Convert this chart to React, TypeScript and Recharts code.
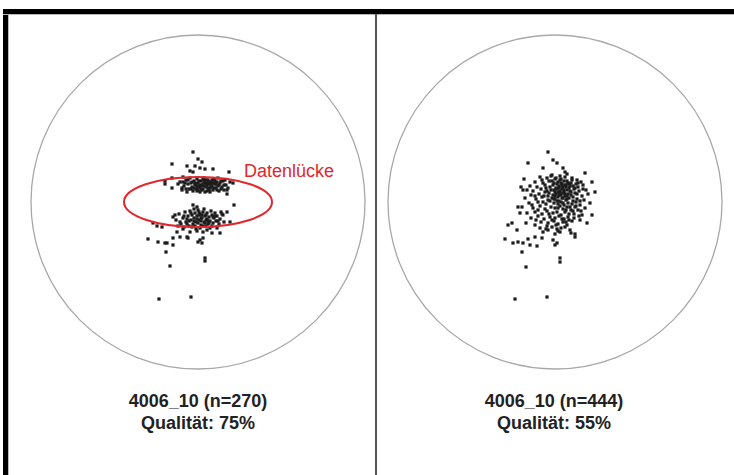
import React from 'react';
import { ScatterChart, Scatter, XAxis, YAxis, ReferenceDot } from 'recharts';

// Projection net radius (units); offsets from the net centre, y up.
const NET_RADIUS = 167;

const LEFT_TITLE = '4006_10 (n=270)';
const LEFT_QUALITY = 'Qualität: 75%';
const RIGHT_TITLE = '4006_10 (n=444)';
const RIGHT_QUALITY = 'Qualität: 55%';
const GAP_LABEL = 'Datenlücke';

// Data gap ellipse (units)
const GAP_ELLIPSE = { x: 0, y: 0, rx: 74, ry: 25 };

const LEFT_UPPER: [number, number][] = [
  [-5, 50], [0, 43], [4, 40], [-26, 38], [-11, 36], [-3, 36], [2, 34], [7, 33], [15, 33], [31, 30],
  [-8, 31], [-5, 30], [-15, 25], [-26, 24], [-33, 21], [20, 24], [35, 19], [29, 8], [-33, 18], [-26, 14],
  [-16, 12], [-18, 20], [-14, 16], [-12, 22], [-10, 18], [-9, 13], [-8, 24], [-7, 19], [-6, 15], [-5, 11],
  [-4, 21], [-3, 17], [-2, 13], [-1, 23], [0, 19], [1, 15], [2, 10], [3, 21], [4, 17], [5, 13],
  [6, 24], [7, 19], [8, 15], [9, 11], [10, 22], [11, 18], [12, 14], [13, 20], [14, 16], [15, 12],
  [16, 23], [17, 18], [18, 14], [19, 20], [20, 16], [21, 11], [22, 19], [24, 15], [25, 21], [26, 12],
  [28, 17], [30, 14], [32, 20], [-16, 14], [-11, 10], [-6, 20], [-2, 18], [1, 21], [4, 12], [6, 16],
  [8, 22], [10, 14], [12, 18], [14, 22], [16, 14], [18, 18], [-4, 14], [0, 12], [3, 16], [7, 10],
  [11, 12], [23, 13], [27, 22], [-20, 18], [-13, 19], [5, 18], [9, 17], [13, 15], [-1, 16], [2, 17],
  [15, 19], [-15, 20], [-10, 22], [-7, 13], [-3, 19], [0, 15], [3, 13], [6, 21], [9, 19], [12, 10],
  [14, 19], [17, 21], [19, 12], [21, 17], [23, 21], [26, 17], [29, 12], [-12, 13], [-1, 11], [5, 23],
  [11, 20],
];

const LEFT_LOWER: [number, number][] = [
  [36, -3], [29, -10], [25, -13], [-5, -3], [-1, -5], [-45, -21], [-36, -25], [-21, -30], [-15, -27], [-8, -30],
  [-1, -29], [5, -30], [14, -31], [22, -31], [32, -20], [-25, -15], [-22, -18], [-19, -12], [-17, -22], [-15, -16],
  [-13, -10], [-12, -20], [-10, -14], [-9, -24], [-8, -9], [-7, -18], [-6, -13], [-5, -22], [-4, -16], [-3, -11],
  [-2, -20], [-1, -14], [0, -8], [1, -18], [2, -12], [3, -23], [4, -16], [5, -10], [6, -20], [7, -14],
  [8, -18], [9, -11], [10, -22], [11, -15], [12, -19], [13, -9], [14, -13], [15, -21], [16, -16], [17, -11],
  [18, -19], [19, -14], [21, -22], [22, -17], [24, -12], [26, -20], [-20, -24], [-11, -17], [-4, -7], [0, -21],
  [3, -16], [6, -7], [9, -17], [-6, -25], [2, -26], [8, -24], [-14, -25], [12, -26], [-1, -17], [4, -13],
  [7, -21], [-9, -19], [15, -15], [-3, -24], [1, -10], [10, -19], [-23, -13], [-18, -20], [-14, -14], [-11, -22],
  [-7, -11], [-4, -19], [1, -13], [3, -19], [5, -24], [8, -13], [11, -21], [14, -24], [17, -14], [20, -19],
  [23, -10], [-2, -27], [9, -28], [19, -26],
];

const LEFT_OUTER: [number, number][] = [
  [-50, -37], [-40, -40], [-33, -41], [-31, -41], [-25, -36], [-18, -35], [-11, -35], [-25, -43], [0, -40], [4, -41],
  [2, -38], [5, -36], [-10, -36], [-32, -50], [7, -56], [7, -59], [-28, -64], [-39, -97], [-7, -95], [-41, -24],
];

const RIGHT_CORE: [number, number][] = [
  [-3, 27], [5, 26], [12, 28],
  [-15, 25], [-8, 24], [0, 23], [5, 22], [10, 25], [17, 24], [22, 22],
  [-20, 20], [-12, 19], [-6, 21], [-1, 19], [3, 20], [7, 18], [12, 21], [16, 19], [21, 18], [26, 20], [37, 20],
  [-25, 16], [-18, 15], [-10, 17], [-5, 15], [-2, 17], [1, 14], [4, 16], [8, 15], [11, 17], [14, 14], [18, 16], [23, 15], [28, 17],
  [-28, 12], [-22, 11], [-14, 13], [-8, 11], [-4, 12], [0, 10], [2, 13], [5, 11], [7, 13], [9, 10], [12, 12], [15, 11], [19, 13], [24, 11], [31, 12],
  [-24, 7], [-16, 8], [-11, 6], [-6, 9], [-2, 7], [1, 8], [3, 5], [6, 7], [8, 9], [10, 6], [13, 8], [16, 7], [20, 9], [27, 6], [33, 8],
  [-30, 4], [-19, 3], [-13, 5], [-7, 2], [-3, 4], [0, 3], [4, 1], [7, 4], [11, 2], [14, 4], [18, 1], [22, 3], [29, 2],
  [-26, -1], [-17, 0], [-9, -2], [-5, 1], [-1, -1], [3, -2], [6, 0], [9, -3], [13, -1], [17, -2], [21, 0], [25, -3], [35, -1],
  [-33, -5], [-22, -6], [-15, -4], [-10, -7], [-4, -5], [0, -6], [5, -4], [8, -7], [12, -5], [16, -8], [20, -5], [23, -8], [30, -6],
  [-28, -11], [-20, -10], [-13, -12], [-8, -9], [-2, -11], [2, -10], [6, -13], [10, -10], [14, -12], [18, -9], [27, -13], [37, -13],
  [-24, -16], [-17, -14], [-11, -17], [-5, -15], [0, -16], [4, -14], [9, -17], [13, -15], [19, -16], [24, -14],
  [-29, -21], [-20, -23], [-14, -20], [-7, -21], [-1, -19], [3, -22], [8, -20], [12, -23], [17, -19], [32, -21],
  [-38, -28], [-15, -26], [-9, -27], [-3, -25], [2, -27], [6, -26], [10, -25], [15, -28],
  [-12, -30], [-7, -28], [5, -30], [16, -31], [20, -32], [0, -32],
  [2, 18], [4, 14], [6, 19], [9, 12], [11, 15], [13, 19], [5, 9], [8, 4], [3, 10], [10, 8],
  [-1, 12], [15, 16], [12, 6], [0, 6], [7, 16],
  [-13, 22], [-9, 14], [-7, 6], [-3, 21], [-1, 3], [1, 24], [3, -6], [4, 7], [6, 23], [8, -1],
  [10, 17], [11, -8], [12, 3], [14, 18], [15, -5], [16, 10], [17, 22], [18, 5], [19, -12], [20, 14],
  [21, -4], [22, 8], [23, 19], [25, 1], [-12, 0], [-6, -12], [-3, -18], [1, -23], [7, -17], [11, -20],
  [-10, 10], [-17, -8], [-20, 6], [-23, -3], [26, -9], [28, 13], [-4, 26], [9, 21], [2, 1], [14, -18],
  [-8, -24], [3, -29], [-19, -18], [25, -18],
];

const RIGHT_OUTER: [number, number][] = [
  [-7, 50], [-27, 39], [-2, 42], [2, 39], [-12, 34], [8, 34], [10, 30], [30, 29], [-31, 23], [-34, 15],
  [-32, 12], [40, 10], [-47, -23], [-43, -21], [-35, -11], [-37, -5], [-50, -37], [-42, -41], [-37, -40], [-32, -41],
  [-27, -37], [-20, -35], [-13, -36], [-25, -43], [-2, -38], [2, -41], [0, -43], [-33, -50], [5, -56], [5, -60],
  [-29, -65], [-40, -97], [-8, -95], [20, -35], [-18, -44],
];

const toPoints = (...lists: [number, number][][]) =>
  lists.flat().map(([x, y]) => ({ x, y }));

const LEFT_POINTS = toPoints(LEFT_UPPER, LEFT_LOWER, LEFT_OUTER);
const RIGHT_POINTS = toPoints(RIGHT_CORE, RIGHT_OUTER);

const FONT = '"Liberation Sans", Arial, Helvetica, sans-serif';

const PointShape = (props: any) => {
  const { cx, cy } = props;
  if (cx == null || cy == null) return null;
  return <rect x={cx - 1.6} y={cy - 1.6} width={3.2} height={3.2} fill="#1c1c1c" />;
};

const CHART = 354;
const MARGIN = 10;

function Net({ points, left, gap }: { points: { x: number; y: number }[]; left: number; gap?: boolean }) {
  return (
    <div style={{ position: 'absolute', left, top: 25 }}>
      <ScatterChart width={CHART} height={CHART} margin={{ top: MARGIN, right: MARGIN, bottom: MARGIN, left: MARGIN }}>
        <XAxis type="number" dataKey="x" domain={[-NET_RADIUS, NET_RADIUS]} hide allowDataOverflow />
        <YAxis type="number" dataKey="y" domain={[-NET_RADIUS, NET_RADIUS]} hide allowDataOverflow />
        <ReferenceDot
          x={0}
          y={0}
          r={NET_RADIUS}
          fill="none"
          stroke="#a8a8a8"
          strokeWidth={1.3}
          ifOverflow="visible"
        />
        <Scatter data={points} shape={PointShape} isAnimationActive={false} />
        {gap && (
          <ReferenceDot
            x={GAP_ELLIPSE.x}
            y={GAP_ELLIPSE.y}
            ifOverflow="visible"
            shape={(p: any) => (
              <ellipse
                cx={p.cx}
                cy={p.cy}
                rx={GAP_ELLIPSE.rx}
                ry={GAP_ELLIPSE.ry}
                fill="none"
                stroke="#e3262b"
                strokeWidth={2}
              />
            )}
          />
        )}
      </ScatterChart>
    </div>
  );
}

function Caption({ cx, title, quality }: { cx: number; title: string; quality: string }) {
  return (
    <div
      style={{
        position: 'absolute',
        left: cx - 150,
        top: 390,
        width: 300,
        textAlign: 'center',
        fontFamily: FONT,
        fontWeight: 'bold',
        fontSize: 18,
        lineHeight: '22px',
        color: '#222',
      }}
    >
      <div>{title}</div>
      <div>{quality}</div>
    </div>
  );
}

export default function App() {
  return (
    <div style={{ position: 'absolute', left: 0, top: 0, width: 734, height: 475, background: '#fff', overflow: 'hidden' }}>
      {/* frame */}
      <div style={{ position: 'absolute', left: 3, top: 9, width: 731, height: 5, background: '#000' }} />
      <div style={{ position: 'absolute', left: 3, top: 9, width: 5, height: 466, background: '#000' }} />
      <div style={{ position: 'absolute', left: 8, top: 14, width: 1, height: 461, background: '#bbb' }} />
      <div style={{ position: 'absolute', left: 3, top: 14, width: 731, height: 1, background: '#bbb' }} />
      <div style={{ position: 'absolute', left: 375, top: 14, width: 2, height: 461, background: '#555' }} />

      <Net points={LEFT_POINTS} left={198 - CHART / 2} gap />
      <Net points={RIGHT_POINTS} left={555 - CHART / 2} />

      <div
        style={{
          position: 'absolute',
          left: 244,
          top: 160,
          fontFamily: FONT,
          fontSize: 18,
          lineHeight: '22px',
          color: '#e3262b',
        }}
      >
        {GAP_LABEL}
      </div>

      <Caption cx={198} title={LEFT_TITLE} quality={LEFT_QUALITY} />
      <Caption cx={554} title={RIGHT_TITLE} quality={RIGHT_QUALITY} />
    </div>
  );
}
